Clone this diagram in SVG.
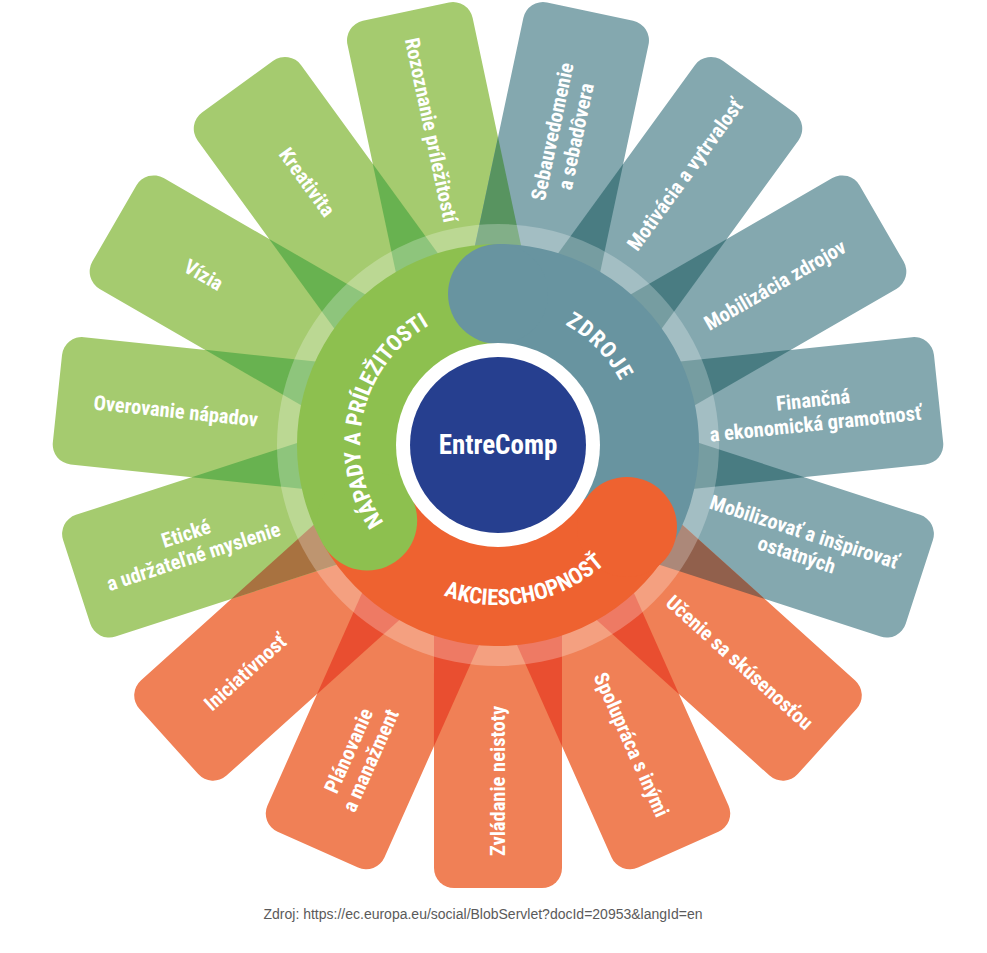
<svg xmlns="http://www.w3.org/2000/svg" xmlns:xlink="http://www.w3.org/1999/xlink" width="987" height="953" viewBox="0 0 987 953">
<style>
.g{fill:#a5cb6f}.b{fill:#84a8af}.o{fill:#f08056}
.t{font-family:'Liberation Sans Narrow','Roboto Condensed','DejaVu Sans Condensed','Liberation Sans',sans-serif;font-stretch:condensed;font-weight:bold;font-size:20.5px;fill:#fff;text-anchor:middle}
.arc{font-size:22.5px}
.src{font-family:'Liberation Sans',Arial,sans-serif;font-size:14px;fill:#5a5a5a;text-anchor:middle}
</style>
<defs>
<rect id="pt" x="0" y="-64" width="443" height="128" rx="20"/>
<polygon id="ov" points="308,0 0,65.4 0,-65.4"/>
<path id="arcN" d="M467,579.5 A138,138 0 0 1 529,310.5"/>
<path id="arcZ" d="M399.4,342.9 A142,142 0 0 1 596.6,547.1"/>
<path id="arcA" d="M340.9,475.5 A160,160 0 0 0 655.1,414.5"/>
</defs>
<rect width="987" height="953" fill="#fff"/>
<g id="petals">
<g id="p-zvladanie"><use xlink:href="#pt" class="o" transform="translate(498 445) rotate(90)"/><text class="t" transform="translate(498 781) rotate(-90)" y="7">Zvládanie neistoty</text></g>
<g id="p-planovanie"><use xlink:href="#pt" class="o" transform="translate(498 445) rotate(114)"/><text class="t" transform="translate(359.7 755.6) rotate(-66)"><tspan x="0" y="-5">Plánovanie</tspan><tspan x="0" y="19">a manažment</tspan></text></g>
<g id="p-iniciativnost"><use xlink:href="#pt" class="o" transform="translate(498 445) rotate(138)"/><text class="t" transform="translate(245.3 672.5) rotate(-42)" y="7">Iniciatívnosť</text></g>
<g id="p-eticke"><use xlink:href="#pt" class="g" transform="translate(498 445) rotate(162)"/><text class="t" transform="translate(189.8 545.1) rotate(-18)"><tspan x="0" y="-5">Etické</tspan><tspan x="0" y="19">a udržateľné myslenie</tspan></text></g>
<g id="p-overovanie"><use xlink:href="#pt" class="g" transform="translate(498 445) rotate(186)"/><text class="t" transform="translate(175.8 411.1) rotate(6)" y="7">Overovanie nápadov</text></g>
<g id="p-vizia"><use xlink:href="#pt" class="g" transform="translate(498 445) rotate(210)"/><text class="t" transform="translate(203.6 275) rotate(30)" y="7">Vízia</text></g>
<g id="p-kreativita"><use xlink:href="#pt" class="g" transform="translate(498 445) rotate(234)"/><text class="t" transform="translate(307 182.1) rotate(54)" y="7">Kreativita</text></g>
<g id="p-rozoznanie"><use xlink:href="#pt" class="g" transform="translate(498 445) rotate(258)"/><text class="t" transform="translate(431.1 130) rotate(78)" y="7">Rozoznanie príležitostí</text></g>
<g id="p-sebauvedomenie"><use xlink:href="#pt" class="b" transform="translate(498 445) rotate(282)"/><text class="t" transform="translate(564.1 134) rotate(-78)"><tspan x="0" y="-5">Sebauvedomenie</tspan><tspan x="0" y="19">a sebadôvera</tspan></text></g>
<g id="p-motivacia"><use xlink:href="#pt" class="b" transform="translate(498 445) rotate(306)"/><text class="t" transform="translate(685 175) rotate(-54)" y="7">Motivácia a vytrvalosť</text></g>
<g id="p-mobilizacia"><use xlink:href="#pt" class="b" transform="translate(498 445) rotate(330)"/><text class="t" transform="translate(775.1 285) rotate(-30)" y="7">Mobilizácia zdrojov</text></g>
<g id="p-financna"><use xlink:href="#pt" class="b" transform="translate(498 445) rotate(354)"/><text class="t" transform="translate(814.3 411.8) rotate(-6)"><tspan x="0" y="-5">Finančná</tspan><tspan x="0" y="19">a ekonomická gramotnosť</tspan></text></g>
<g id="p-mobilizovat"><use xlink:href="#pt" class="b" transform="translate(498 445) rotate(18)"/><text class="t" transform="translate(800.4 543.3) rotate(18)"><tspan x="0" y="-5">Mobilizovať a inšpirovať</tspan><tspan x="0" y="19">ostatných</tspan></text></g>
<g id="p-ucenie"><use xlink:href="#pt" class="o" transform="translate(498 445) rotate(42)"/><text class="t" transform="translate(739.5 662.5) rotate(42)" y="7">Učenie sa skúsenosťou</text></g>
<g id="p-spolupraca"><use xlink:href="#pt" class="o" transform="translate(498 445) rotate(66)"/><text class="t" transform="translate(631.4 744.6) rotate(66)" y="7">Spolupráca s inými</text></g>
</g>
<g id="overlaps" transform="translate(498 445)">
<use xlink:href="#ov" transform="rotate(102)" fill="#e94e30"/>
<use xlink:href="#ov" transform="rotate(126)" fill="#e94e30"/>
<use xlink:href="#ov" transform="rotate(150)" fill="#a87240"/>
<use xlink:href="#ov" transform="rotate(174)" fill="#68b250"/>
<use xlink:href="#ov" transform="rotate(198)" fill="#68b250"/>
<use xlink:href="#ov" transform="rotate(222)" fill="#68b250"/>
<use xlink:href="#ov" transform="rotate(246)" fill="#68b250"/>
<use xlink:href="#ov" transform="rotate(270)" fill="#589460"/>
<use xlink:href="#ov" transform="rotate(294)" fill="#497c82"/>
<use xlink:href="#ov" transform="rotate(318)" fill="#497c82"/>
<use xlink:href="#ov" transform="rotate(342)" fill="#497c82"/>
<use xlink:href="#ov" transform="rotate(6)" fill="#497c82"/>
<use xlink:href="#ov" transform="rotate(30)" fill="#91604c"/>
<use xlink:href="#ov" transform="rotate(54)" fill="#e94e30"/>
<use xlink:href="#ov" transform="rotate(78)" fill="#e94e30"/>
</g>
<circle id="halo" cx="498" cy="445" r="221" fill="#fff" fill-opacity="0.25"/>
<g id="area-napady">
<path d="M323.9,545.5 A201,201 0 0 1 498,244 L498,344 A101,101 0 0 0 410.5,495.5 Z" fill="#8dc04f"/>
</g>
<g id="area-zdroje">
<path d="M498,244 A201,201 0 0 1 668.5,551.5 L583.7,498.5 A101,101 0 0 0 498,344 Z" fill="#6894a0"/>
</g>
<g id="area-akcieschopnost">
<path d="M668.5,551.5 A201,201 0 0 1 323.9,545.5 L410.5,495.5 A101,101 0 0 0 583.7,498.5 Z" fill="#ee6230"/>
</g>
<g id="heads">
<circle cx="367.2" cy="520.5" r="50" fill="#8dc04f"/>
<circle cx="498" cy="294" r="50" fill="#6894a0"/>
<circle cx="627" cy="527" r="50" fill="#ee6230"/>
</g>
<g id="area-labels">
<text class="t arc"><textPath xlink:href="#arcN" startOffset="50%">NÁPADY A PRÍLEŽITOSTI</textPath></text>
<text class="t arc" letter-spacing="1.5"><textPath xlink:href="#arcZ" startOffset="50%">ZDROJE</textPath></text>
<text class="t arc"><textPath xlink:href="#arcA" startOffset="50%">AKCIESCHOPNOSŤ</textPath></text>
</g>
<g id="center">
<circle cx="498" cy="445" r="102" fill="#fff"/>
<circle cx="498" cy="445" r="88" fill="#263f8f"/>
<text class="t" x="498" y="454" style="font-size:27px">EntreComp</text>
</g>
<text class="src" x="483" y="919">Zdroj: https://ec.europa.eu/social/BlobServlet?docId=20953&amp;langId=en</text>
</svg>
